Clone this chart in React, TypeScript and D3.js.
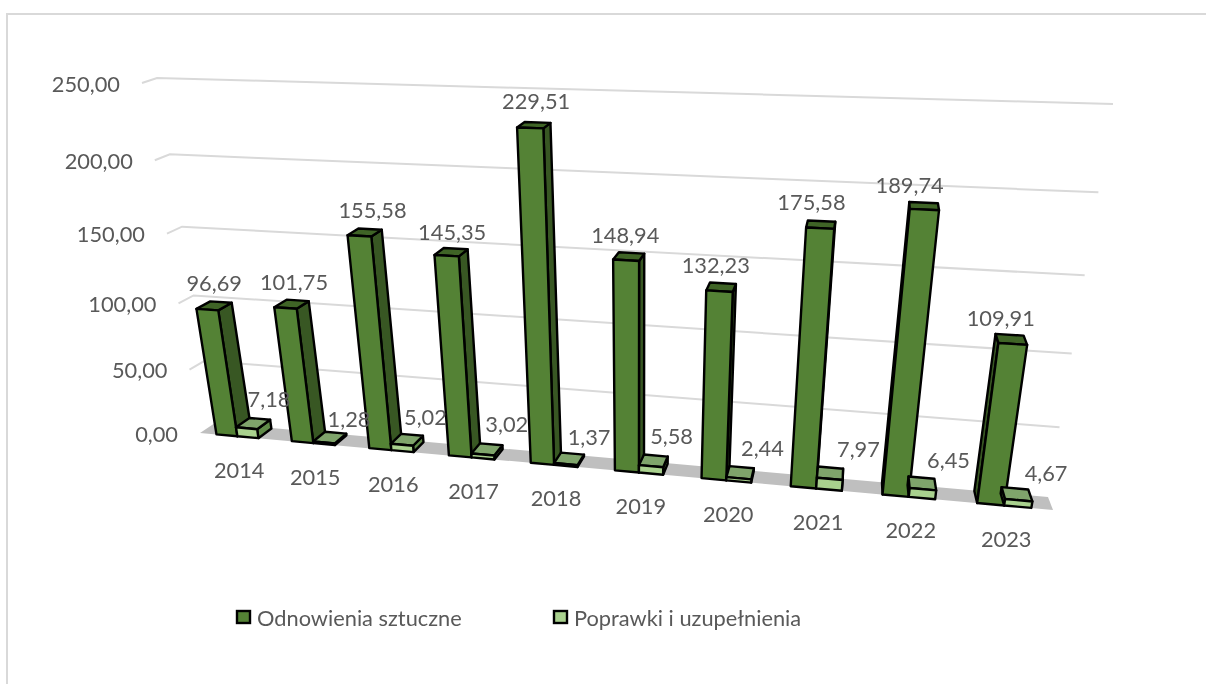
import React from "react";
import * as d3 from "d3";

const years = ["2014","2015","2016","2017","2018","2019","2020","2021","2022","2023"];
const odnowienia = [96.69,101.75,155.58,145.35,229.51,148.94,132.23,175.58,189.74,109.91];
const poprawki = [7.18,1.28,5.02,3.02,1.37,5.58,2.44,7.97,6.45,4.67];
const ticks = [0,50,100,150,200,250];
const seriesNames = ["Odnowienia sztuczne","Poprawki i uzupełnienia"];

// layout of the 3D box (corners of back wall and front plane)
const backQuad: P[] = [[215,423],[1048,497],[1113,104],[157,78]];
const frontQuad: P[] = [[200,433],[1053,510],[1118,110],[142,83]];
const darkNudgeX = [-6,-3,3,-3,-1,-6,-7,-10,-14,-9];
const darkNudgeY = [-1,0,-1,1,-3,0,0,-1,0,1];
const lightNudgeX = [10,14,14,16,17,16,21,28,27,31];
const lightNudgeY = [-2,4,0,-2,1,-2,-1,-1,0,3];

type P = [number,number];
const FONT = "Lato, 'Open Sans', sans-serif";
const TEXT = "#595959";
const FS = 21.8;

function homography(q: P[]) {
  const [[x0,y0],[x1,y1],[x2,y2],[x3,y3]] = q;
  const dx1=x1-x2, dx2=x3-x2, sx=x0-x1+x2-x3;
  const dy1=y1-y2, dy2=y3-y2, sy=y0-y1+y2-y3;
  const den=dx1*dy2-dx2*dy1;
  const g=(sx*dy2-dx2*sy)/den, h=(dx1*sy-sx*dy1)/den;
  const a=x1-x0+g*x1, b=x3-x0+h*x3, d=y1-y0+g*y1, e=y3-y0+h*y3;
  return (u:number,v:number):P => {
    const w=g*u+h*v+1;
    return [(a*u+b*v+x0)/w,(d*u+e*v+y0)/w];
  };
}
const hBack = homography(backQuad);
const hFront = homography(frontQuad);
const project = (u:number,v:number,w:number):P => {
  const [bx,by]=hBack(u,v), [fx,fy]=hFront(u,v);
  return [bx+(fx-bx)*w, by+(fy-by)*w];
};

const uScale = d3.scaleBand<string>().domain(years).range([0,1]).padding(0);
const vScale = d3.scaleLinear().domain([0,250]).range([0,1]);
const subScale = d3.scaleBand<string>().domain(seriesNames).range([0.22,0.78]).padding(0);
const W_BACK = 0.05, W_FRONT = 0.99;

const poly = (pts:P[]) => d3.line()(pts as any)! + "Z";

const palettes = [
  { front:"#548235", side:"#385723", top:"#3f6426" },
  { front:"#A9D18E", side:"#5f8a48", top:"#7FA46B" },
];

function Bar({i,s,value}:{i:number;s:number;value:number}) {
  const step = uScale.step();
  const start = uScale(years[i])! + subScale(seriesNames[s])!*step;
  const u0 = start, u1 = start + subScale.bandwidth()*step;
  const v = vScale(value);
  const pal = palettes[s];
  const fbl=project(u0,0,W_FRONT), fbr=project(u1,0,W_FRONT), ftr=project(u1,v,W_FRONT), ftl=project(u0,v,W_FRONT);
  const bbl=project(u0,0,W_BACK), bbr=project(u1,0,W_BACK), btr=project(u1,v,W_BACK), btl=project(u0,v,W_BACK);
  const st = {stroke:"#000",strokeWidth:2.4,strokeLinejoin:"round" as const};
  return <g>
    {btr[0]>ftr[0] && <path d={poly([fbr,bbr,btr,ftr])} fill={pal.side} {...st}/>}
    {btl[0]<ftl[0] && <path d={poly([fbl,bbl,btl,ftl])} fill={pal.side} {...st}/>}
    <path d={poly([ftl,ftr,btr,btl])} fill={pal.top} {...st}/>
    <path d={poly([fbl,fbr,ftr,ftl])} fill={pal.front} {...st}/>
  </g>;
}

export default function App() {
  const barLabels = (vals:number[], s:number, nx:number[], ny:number[]) => vals.map((val,i)=>{
    const step = uScale.step();
    const um = uScale(years[i])! + (subScale(seriesNames[s])!+subScale.bandwidth()/2)*step;
    const [x,y] = project(um, vScale(val), 0.1);
    return <text key={i} x={x+nx[i]} y={y-19+ny[i]} textAnchor="middle" dominantBaseline="central"
      fontFamily={FONT} fontSize={FS} fill={TEXT}>{val.toFixed(2).replace(".",",")}</text>;
  });
  return (
    <svg width={1206} height={684} style={{position:"absolute",left:0,top:0,background:"#fff",filter:"blur(0.45px)"}}>
      <path d="M1206,14H7V684" fill="none" stroke="#d9d9d9" strokeWidth={2}/>
      {/* floor */}
      <path d={poly([project(0,0,1),project(1,0,1),project(1,0,0),project(0,0,0)])} fill="#bfbfbf"/>
      {/* gridlines */}
      {ticks.filter(t=>t>0).map(t=>{
        const v=vScale(t);
        return <path key={t} d={d3.line()([project(0,v,1),project(0,v,0),project(1,v,0)] as any)!} fill="none" stroke="#d9d9d9" strokeWidth={2}/>;
      })}
      {/* axis labels */}
      {ticks.map(t=>{
        const [x,y]=project(0,vScale(t),1);
        return <text key={t} x={x-22} y={y} textAnchor="end" dominantBaseline="central"
          fontFamily={FONT} fontSize={FS} fill={TEXT}>{t.toFixed(2).replace(".",",")}</text>;
      })}
      {/* bars */}
      {years.map((_,i)=><g key={i}>
        <Bar i={i} s={0} value={odnowienia[i]}/>
        <Bar i={i} s={1} value={poprawki[i]}/>
      </g>)}
      {barLabels(odnowienia,0,darkNudgeX,darkNudgeY)}
      {barLabels(poprawki,1,lightNudgeX,lightNudgeY)}
      {/* category labels */}
      {years.map((yr,i)=>{
        const [x,y]=project(uScale(yr)!+uScale.step()/2,0,1);
        return <text key={yr} x={x+2} y={y+33} textAnchor="middle" dominantBaseline="central"
          fontFamily={FONT} fontSize={FS} fill={TEXT}>{yr}</text>;
      })}
      {/* legend */}
      {seriesNames.map((n,i)=>{
        const xs=[237,554];
        return <g key={n}>
          <rect x={xs[i]} y={611} width={13} height={12} fill={palettes[i].front} stroke="#000" strokeWidth={2.4}/>
          <text x={xs[i]+20} y={617} dominantBaseline="central" fontFamily={FONT} fontSize={FS} fill={TEXT}>{n}</text>
        </g>;
      })}
    </svg>
  );
}
